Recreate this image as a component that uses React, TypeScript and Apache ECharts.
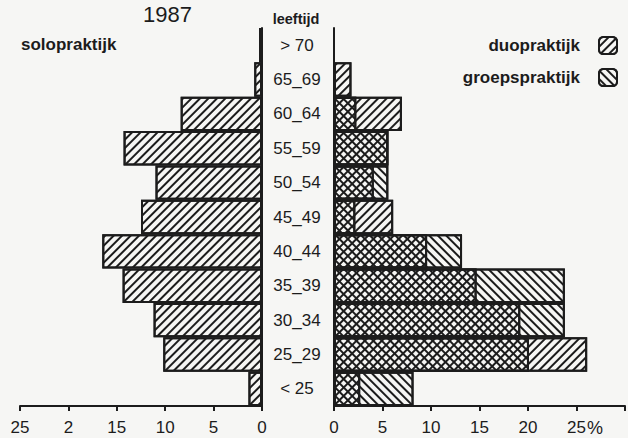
import React, { useEffect, useRef } from 'react';
import * as echarts from 'echarts';

const categories = ['< 25', '25_29', '30_34', '35_39', '40_44', '45_49', '50_54', '55_59', '60_64', '65_69', '> 70'];
const soloValues = [1.4, 10.2, 11.2, 14.4, 16.5, 12.5, 11.0, 14.3, 8.4, 0.8, 0.3];
const duoValues = [2.7, 26.1, 19.2, 14.7, 9.6, 6.1, 4.1, 5.6, 7.0, 1.8, 0];
const groepValues = [8.2, 20.1, 23.8, 23.8, 13.2, 2.2, 5.6, 5.6, 2.3, 0, 0];
const leftTickValues = [0, 5, 10, 15, 20, 25];
const leftTickLabels = ['0', '5', '10', '15', '2', '25'];
const rightTickValues = [0, 5, 10, 15, 20, 25, 30];
const rightTickLabels = ['0', '5', '10', '15', '20', '25', ''];

const ink = '#1c1c1c';
const font = '"Liberation Sans", Arial, Helvetica, sans-serif';

const slashDecal = {
  symbol: 'rect',
  symbolSize: 1,
  dashArrayX: [1, 0],
  dashArrayY: [1.3, 3.7],
  rotation: -Math.PI / 4,
  color: ink,
};
const backDecal = { ...slashDecal, rotation: Math.PI / 4 };

const barStyle = (decal: any) => ({
  color: 'rgba(255,255,255,0)',
  borderColor: ink,
  borderWidth: 2,
  decal,
});

export default function App() {
  const ref = useRef<HTMLDivElement>(null);
  useEffect(() => {
    document.body.style.margin = '0';
    const chart = echarts.init(ref.current!, null, { renderer: 'svg' });
    const option: any = {
      animation: false,
      backgroundColor: '#f6f6f4',
      grid: [
        { left: 20, width: 242, top: 28, height: 378 },
        { left: 334, width: 293, top: 28, height: 378 },
      ],
      xAxis: [
        {
          gridIndex: 0, type: 'value', min: 0, max: 25, interval: 5, inverse: true,
          splitLine: { show: false },
          axisLine: { show: true, lineStyle: { color: ink, width: 2 } },
          axisTick: { show: true, length: 5, lineStyle: { color: ink, width: 2 } },
          axisLabel: {
            margin: 13, color: ink, fontSize: 17, fontFamily: font,
            formatter: (v: number) => leftTickLabels[leftTickValues.indexOf(v)] ?? '',
          },
        },
        {
          gridIndex: 1, type: 'value', min: 0, max: 30, interval: 5,
          splitLine: { show: false },
          axisLine: { show: true, lineStyle: { color: ink, width: 2 } },
          axisTick: { show: true, length: 5, lineStyle: { color: ink, width: 2 } },
          axisLabel: {
            margin: 13, color: ink, fontSize: 17, fontFamily: font, showMaxLabel: true,
            formatter: (v: number) => rightTickLabels[rightTickValues.indexOf(v)] ?? '',
          },
        },
      ],
      yAxis: [
        {
          gridIndex: 0, type: 'category', data: categories, position: 'right',
          axisLine: { show: true, lineStyle: { color: ink, width: 2 } },
          axisTick: { show: false }, axisLabel: { show: false },
        },
        {
          gridIndex: 1, type: 'category', data: categories, position: 'left',
          axisLine: { show: true, lineStyle: { color: ink, width: 2 } },
          axisTick: { show: false },
          axisLabel: { margin: 37, align: 'center', color: ink, fontSize: 17, fontFamily: font },
        },
      ],
      legend: {
        data: ['duopraktijk', 'groepspraktijk'],
        orient: 'vertical', right: 5, top: 31, align: 'right',
        itemWidth: 18, itemHeight: 17, itemGap: 13, selectedMode: false,
        textStyle: { color: ink, fontSize: 17, fontWeight: 'bold', fontFamily: font, padding: [0, 14, 0, 0] },
      },
      graphic: [
        { type: 'text', left: 143, top: 3, style: { text: '1987', fontSize: 22, fontFamily: font, fill: ink } },
        { type: 'text', x: 21, y: 44, style: { text: 'solopraktijk', fontSize: 17, fontWeight: 'bold', fontFamily: font, fill: ink, verticalAlign: 'middle' } },
        { type: 'text', x: 296, y: 19, style: { text: 'leeftijd', fontSize: 14.5, fontWeight: 'bold', fontFamily: font, fill: ink, align: 'center', verticalAlign: 'middle' } },
        { type: 'text', x: 587, y: 428, style: { text: '%', fontSize: 18, fontFamily: font, fill: ink, verticalAlign: 'middle' } },
      ],
      series: [
        {
          name: 'solopraktijk', type: 'bar', xAxisIndex: 0, yAxisIndex: 0, data: soloValues,
          barCategoryGap: '0%', itemStyle: barStyle(slashDecal),
        },
        {
          name: 'duopraktijk', type: 'bar', xAxisIndex: 1, yAxisIndex: 1, data: duoValues,
          barCategoryGap: '0%', barGap: '-100%', itemStyle: barStyle(slashDecal),
        },
        {
          name: 'groepspraktijk', type: 'bar', xAxisIndex: 1, yAxisIndex: 1, data: groepValues,
          barCategoryGap: '0%', barGap: '-100%', itemStyle: barStyle(backDecal),
        },
      ],
    };
    chart.setOption(option);
    return () => chart.dispose();
  }, []);
  return <div ref={ref} style={{ position: 'absolute', left: 0, top: 0, width: 628, height: 438 }} />;
}
